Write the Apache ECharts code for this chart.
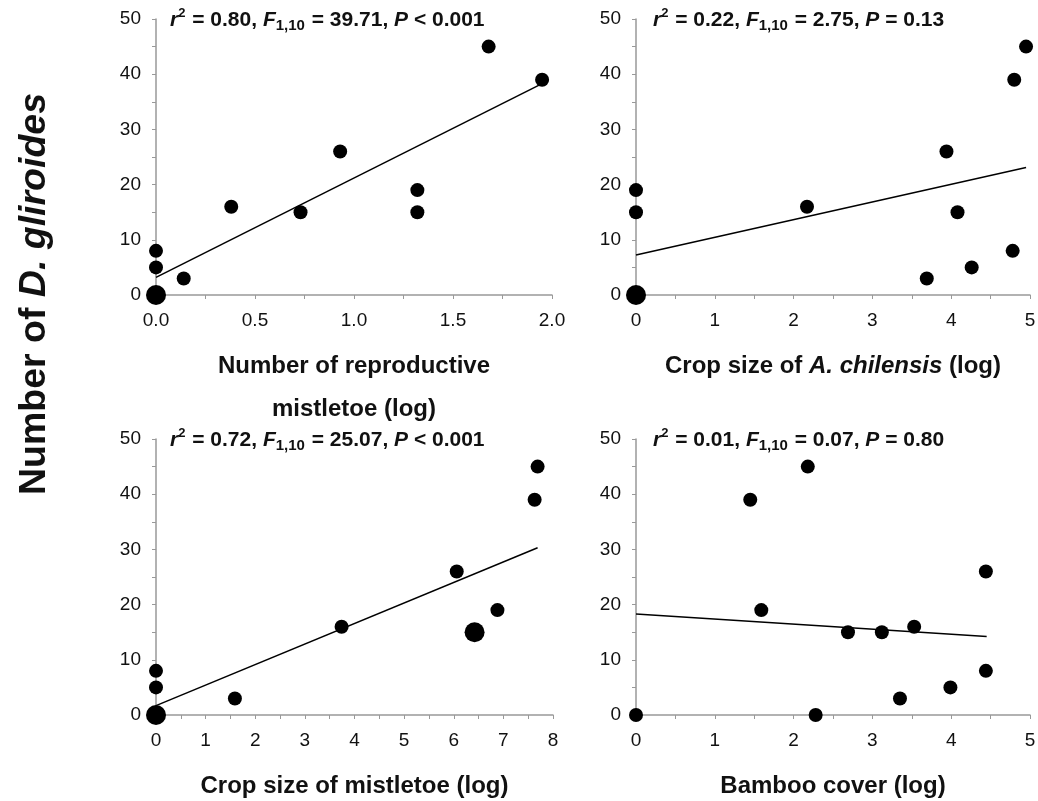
<!DOCTYPE html>
<html>
<head>
<meta charset="utf-8">
<script src="https://cdn.jsdelivr.net/npm/echarts@6/dist/echarts.min.js"></script>
<style>
html,body{margin:0;padding:0;background:#fff;}
#main_chart{width:1038px;height:801px;}
</style>
</head>
<body>
<div id="main_chart"></div>
<script>
// panel 1: reproductive mistletoe
var p1X = [1.68, 1.95, 0.93, 1.32, 1.32, 0.73, 0.38, 0, 0, 0.14];
var p1Y = [45, 39, 26, 19, 15, 15, 16, 8, 5, 3];
var p1Big = [[0, 0]];
var p1Fit = [[0, 3.2], [1.95, 38.3]];
// panel 2: crop size of A. chilensis
var p2X = [4.95, 4.80, 3.94, 4.08, 4.78, 4.26, 3.69, 2.17, 0, 0];
var p2Y = [45, 39, 26, 15, 8, 5, 3, 16, 19, 15];
var p2Big = [[0, 0]];
var p2Fit = [[0, 7.25], [4.95, 23.1]];
// panel 3: crop size of mistletoe
var p3X = [7.69, 7.63, 6.06, 6.88, 3.74, 1.59, 0, 0];
var p3Y = [45, 39, 26, 19, 16, 3, 8, 5];
var p3Big = [[0, 0], [6.42, 15]];
var p3Fit = [[0, 1.7], [7.69, 30.3]];
// panel 4: bamboo cover
var p4X = [2.18, 1.45, 1.59, 2.69, 3.12, 3.53, 4.44, 4.44, 3.99, 3.35, 2.28, 0];
var p4Y = [45, 39, 19, 15, 15, 16, 26, 8, 5, 3, 0, 0];
var p4Big = [];
var p4Fit = [[0, 18.3], [4.45, 14.2]];

var statTexts = [
	['0.80', '39.71', '< 0.001'],
	['0.22', '2.75', '= 0.13'],
	['0.72', '25.07', '< 0.001'],
	['0.01', '0.07', '= 0.80']
];
var xNames = [
	'Number of reproductive\nmistletoe (log)',
	'Crop size of {i|A. chilensis} (log)',
	'Crop size of mistletoe (log)',
	'Bamboo cover (log)'
];
var xMax = [2, 5, 8, 5];
var xInterval = [0.5, 1, 1, 1];

var FONT = '"Liberation Sans", Arial, sans-serif';

function pairs(xs, ys){
	var out = [];
	for(var i=0;i<xs.length;i++){
		out.push([xs[i], ys[i]]);
	}
	return out;
}

var myChart = echarts.init(document.getElementById('main_chart'));

var grids = [
	{left:156, top:19, width:396, height:276, outerBoundsMode:'none'},
	{left:636, top:19, width:394, height:276, outerBoundsMode:'none'},
	{left:156, top:439, width:397, height:276, outerBoundsMode:'none'},
	{left:636, top:439, width:394, height:276, outerBoundsMode:'none'}
];

var xAxes = [], yAxes = [], series = [], graphics = [];
var allX = [p1X, p2X, p3X, p4X];
var allY = [p1Y, p2Y, p3Y, p4Y];
var allBig = [p1Big, p2Big, p3Big, p4Big];
var allFit = [p1Fit, p2Fit, p3Fit, p4Fit];

for(var k=0;k<4;k++){
	xAxes.push({
		gridIndex: k,
		type: 'value',
		min: 0,
		max: xMax[k],
		interval: xInterval[k],
		name: xNames[k],
		nameLocation: 'middle',
		nameGap: 50,
		nameTextStyle: {
			fontFamily: FONT, fontWeight: 'bold', fontSize: 24, color: '#111', lineHeight: 43,
			rich: { i: { fontFamily: FONT, fontWeight: 'bold', fontStyle: 'italic', fontSize: 24, color: '#111', lineHeight: 43 } }
		},
		axisLine: { lineStyle: { color: '#999', width: 1.5 } },
		axisTick: { show: true, length: 4, inside: false, lineStyle: { color: '#999' } },
		minorTick: { show: true, splitNumber: 2, length: 4, lineStyle: { color: '#999' } },
		axisLabel: {
			fontFamily: FONT, fontSize: 19, color: '#111', margin: 16,
			formatter: k == 0 ? function(v){ return v.toFixed(1); } : '{value}'
		},
		splitLine: { show: false }
	});
	yAxes.push({
		gridIndex: k,
		type: 'value',
		min: 0,
		max: 50,
		interval: 10,
		axisLine: { show: true, lineStyle: { color: '#999', width: 1.5 } },
		axisTick: { show: true, length: 4, lineStyle: { color: '#999' } },
		minorTick: { show: true, splitNumber: 2, length: 4, lineStyle: { color: '#999' } },
		axisLabel: { fontFamily: FONT, fontSize: 19, color: '#111', margin: 15 },
		splitLine: { show: false }
	});
	series.push({
		type: 'line',
		xAxisIndex: k, yAxisIndex: k,
		data: allFit[k],
		symbol: 'none',
		lineStyle: { color: '#000', width: 1.5 },
		z: 3
	});
	series.push({
		type: 'scatter',
		xAxisIndex: k, yAxisIndex: k,
		data: pairs(allX[k], allY[k]),
		symbolSize: 14,
		itemStyle: { color: '#000', opacity: 1 },
		z: 4
	});
	if(allBig[k].length>0){
		series.push({
			type: 'scatter',
			xAxisIndex: k, yAxisIndex: k,
			data: allBig[k],
			symbolSize: 20,
			itemStyle: { color: '#000', opacity: 1 },
			z: 4
		});
	}
	// regression statistics above each panel
	var s = statTexts[k];
	graphics.push({
		type: 'text',
		x: grids[k].left + (k%2==0 ? 14 : 17),
		y: grids[k].top + 1,
		style: {
			text: '{i|r}{sup|2}{b| = ' + s[0] + ', }{i|F}{sub|1,10}{b| = ' + s[1] + ', }{i|P}{b| ' + s[2] + '}',
			verticalAlign: 'middle',
			rich: {
				b: { fontFamily: FONT, fontWeight: 'bold', fontSize: 21, fill: '#111', lineHeight: 27 },
				i: { fontFamily: FONT, fontWeight: 'bold', fontStyle: 'italic', fontSize: 21, fill: '#111', lineHeight: 27 },
				sup: { fontFamily: FONT, fontWeight: 'bold', fontSize: 13, fill: '#111', lineHeight: 14, verticalAlign: 'top', padding: [0, 1, 0, 0] },
				sub: { fontFamily: FONT, fontWeight: 'bold', fontSize: 15, fill: '#111', lineHeight: 15, verticalAlign: 'bottom', padding: [0, 1, 0, 0] }
			}
		}
	});
}

graphics.push({
	type: 'text',
	x: 35,
	y: 294,
	rotation: Math.PI / 2,
	style: {
		text: '{b|Number of }{i|D. gliroides}',
		align: 'center',
		verticalAlign: 'middle',
		rich: {
			b: { fontFamily: FONT, fontWeight: 'bold', fontSize: 37.5, fill: '#111' },
			i: { fontFamily: FONT, fontWeight: 'bold', fontStyle: 'italic', fontSize: 37.5, fill: '#111' }
		}
	}
});

var option = {
	backgroundColor: '#fff',
	animation: false,
	grid: grids,
	xAxis: xAxes,
	yAxis: yAxes,
	series: series,
	graphic: graphics
};
myChart.setOption(option);
</script>
</body>
</html>
